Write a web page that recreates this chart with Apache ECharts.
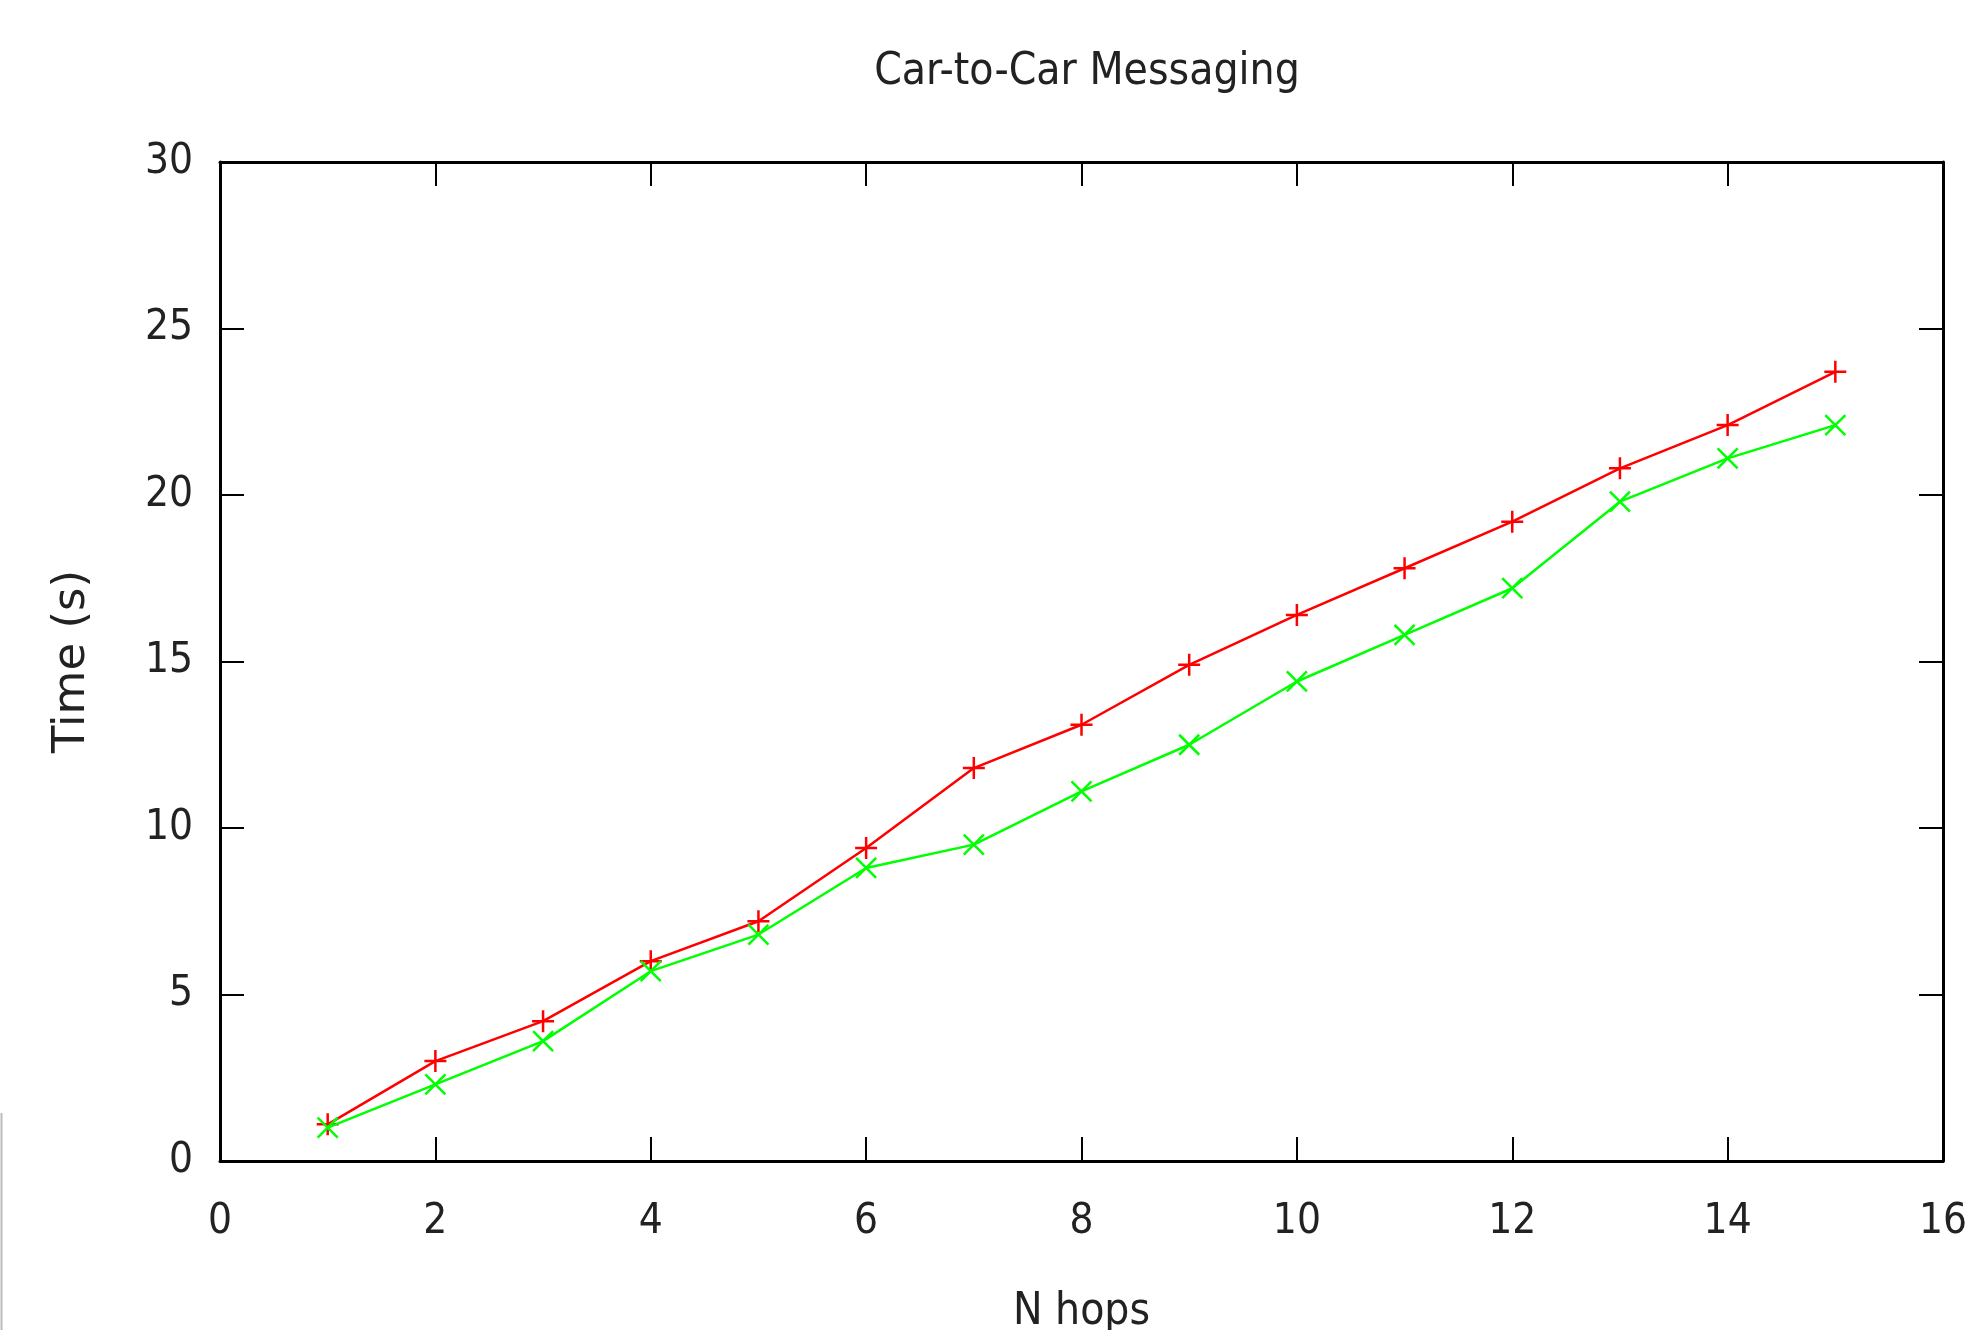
<!DOCTYPE html>
<html>
<head>
<meta charset="utf-8">
<script src="https://cdn.jsdelivr.net/npm/echarts@6/dist/echarts.min.js"></script>
<style>html,body{margin:0;padding:0;background:#fff;}#c{width:1972px;height:1330px;}</style>
</head>
<body>
<div id="c"></div>
<script>
const titleText = 'Car-to-Car Messaging';
const xName = 'N hops';
const yName = 'Time (s)';
const hops = [1, 2, 3, 4, 5, 6, 7, 8, 9, 10, 11, 12, 13, 14, 15];
const redSeries = [1.1, 3.0, 4.2, 6.0, 7.2, 9.4, 11.8, 13.1, 14.9, 16.4, 17.8, 19.2, 20.8, 22.1, 23.7];
const greenSeries = [1.0, 2.3, 3.6, 5.7, 6.8, 8.8, 9.5, 11.1, 12.5, 14.4, 15.8, 17.2, 19.8, 21.1, 22.1];

const FONT = '"DejaVu Sans Condensed", "DejaVu Sans", sans-serif';
const FONT_REG = '"DejaVu Sans", sans-serif';
const plusPath = 'path://M5,0L5,10M0,5L10,5';
const crossPath = 'path://M0,0L10,10M10,0L0,10';

const chart = echarts.init(document.getElementById('c'), null, {renderer: 'canvas'});
const axisCommon = {
  min: 0,
  axisLine: {show: true, onZero: false, lineStyle: {color: '#000', width: 3}},
  axisTick: {show: true, inside: true, length: 24, lineStyle: {color: '#000', width: 2}},
  splitLine: {show: false}
};
chart.setOption({
  backgroundColor: '#fff',
  animation: false,
  title: {
    text: titleText, left: 1082, textAlign: 'center', top: 46,
    textStyle: {fontFamily: FONT, fontSize: 44, fontWeight: 'normal', color: '#222'}
  },
  grid: {left: 220, right: 29, top: 162, bottom: 169, show: false, containLabel: false, outerBoundsMode: 'none'},
  xAxis: [
    Object.assign({}, axisCommon, {
      type: 'value', max: 16, interval: 2, position: 'bottom',
      name: xName, nameLocation: 'middle', nameGap: 130,
      nameTextStyle: {fontFamily: FONT, fontSize: 44, color: '#222'},
      axisLabel: {fontFamily: FONT, fontSize: 42, color: '#222', margin: 40}
    }),
    Object.assign({}, axisCommon, {
      type: 'value', max: 16, interval: 2, position: 'top',
      axisLabel: {show: false}
    })
  ],
  yAxis: [
    Object.assign({}, axisCommon, {
      type: 'value', max: 30, interval: 5, position: 'left',
      name: yName, nameLocation: 'middle', nameGap: 125,
      nameTextStyle: {fontFamily: FONT_REG, fontSize: 45, color: '#222'},
      axisLabel: {fontFamily: FONT, fontSize: 42, color: '#222', margin: 27}
    }),
    Object.assign({}, axisCommon, {
      type: 'value', max: 30, interval: 5, position: 'right',
      axisLabel: {show: false}
    })
  ],
  series: [
    {
      type: 'line', xAxisIndex: 0, yAxisIndex: 0,
      data: hops.map((h, i) => [h, redSeries[i]]),
      symbol: plusPath, symbolSize: 22, showAllSymbol: true,
      lineStyle: {color: '#ff0000', width: 2.5},
      itemStyle: {color: 'none', borderColor: '#ff0000', borderWidth: 2.5},
      z: 3
    },
    {
      type: 'line', xAxisIndex: 0, yAxisIndex: 0,
      data: hops.map((h, i) => [h, greenSeries[i]]),
      symbol: crossPath, symbolSize: 20, showAllSymbol: true,
      lineStyle: {color: '#00ff00', width: 2.5},
      itemStyle: {color: 'none', borderColor: '#00ff00', borderWidth: 2.5},
      z: 4
    }
  ],
  graphic: [
    {type: 'line', shape: {x1: 1.5, y1: 1113, x2: 1.5, y2: 1330}, style: {stroke: '#bbb', lineWidth: 2}}
  ]
});
</script>
</body>
</html>
